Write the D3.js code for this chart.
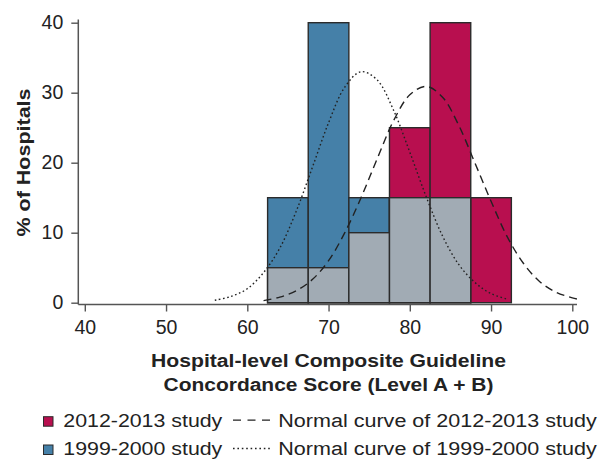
<!DOCTYPE html>
<html><head><meta charset="utf-8">
<script src="https://cdn.jsdelivr.net/npm/d3@7/dist/d3.min.js"></script>
<style>
html,body{margin:0;padding:0;background:#fff;}
svg{display:block;font-family:"Liberation Sans",Arial,Helvetica,sans-serif;}
</style></head>
<body>
<svg id="chart" width="599" height="461"></svg>
<script>
// ---- data ----
const binCenters = [65, 70, 75, 80, 85, 90];
const study1999 = [15, 40, 15, 15, 15, 0];
const study2012 = [5, 5, 10, 25, 40, 15];
const xTicks = [40, 50, 60, 70, 80, 90, 100];
const yTicks = [0, 10, 20, 30, 40];
// normal curves
const curve1999X = [56, 58, 60, 62, 64, 66, 68, 70, 72, 74, 76, 78, 80, 82, 84, 86, 88, 90, 92];
const curve1999Y = [0.35, 0.9, 2.0, 4.3, 7.8, 13.0, 19.3, 25.7, 30.8, 33.0, 31.8, 27.5, 21.5, 15.2, 9.6, 5.5, 2.9, 1.3, 0.5];
const curve2012X = [62, 64, 66, 68, 70, 72, 74, 76, 78, 80, 82, 84, 86, 88, 90, 92, 94, 96, 98, 100, 100.7];
const curve2012Y = [0.3, 0.8, 1.7, 3.3, 6.0, 10.0, 15.0, 20.6, 26.0, 29.7, 30.9, 29.4, 25.4, 20.0, 14.5, 9.4, 5.6, 3.0, 1.5, 0.7, 0.5];
const legendLabels = ["2012-2013 study", "1999-2000 study"];
const curveLabels = ["Normal curve of 2012-2013 study", "Normal curve of 1999-2000 study"];

const colBlue = "#4580a8", colRed = "#b80f4f", colGray = "#a1abb4", colEdge = "#2b2b2b";

const svg = d3.select("#chart");
const x = d3.scaleLinear().domain([40, 100]).range([84.8, 572.3]);
const y = d3.scaleLinear().domain([0, 40]).range([302.7, 22.7]);
const binW = 5;

const g = svg.append("g");
function bars(vals, fill) {
  g.append("g").selectAll("rect").data(binCenters.map((c, i) => ({c, v: vals[i]})).filter(d => d.v > 0))
    .join("rect")
    .attr("x", d => x(d.c - binW / 2)).attr("width", d => x(d.c + binW / 2) - x(d.c - binW / 2))
    .attr("y", d => y(d.v)).attr("height", d => y(0) - y(d.v))
    .attr("fill", fill).attr("stroke", colEdge).attr("stroke-width", 1.4);
}
bars(study1999, colBlue);
bars(study2012, colRed);
bars(binCenters.map((c, i) => Math.min(study1999[i], study2012[i])), colGray);

const line = d3.line().x(d => x(d[0])).y(d => y(d[1])).curve(d3.curveCatmullRom);
g.append("path").datum(curve1999X.map((v, i) => [v, curve1999Y[i]]))
  .attr("d", line).attr("fill", "none").attr("stroke", "#222").attr("stroke-width", 1.4)
  .attr("stroke-dasharray", "1.6,2.6");
g.append("path").datum(curve2012X.map((v, i) => [v, curve2012Y[i]]))
  .attr("d", line).attr("fill", "none").attr("stroke", "#222").attr("stroke-width", 1.4)
  .attr("stroke-dasharray", "8,5");

// axes
const axisColor = "#555";
const xAxisY = 304.5, yAxisX = 78.3;
const xa = svg.append("g").attr("transform", `translate(0,${xAxisY})`)
  .call(d3.axisBottom(x).tickValues(xTicks).tickSize(7).tickPadding(9));
xa.select(".domain").remove();
xa.append("line").attr("x1", yAxisX).attr("x2", 577).attr("stroke", axisColor).attr("stroke-width", 1.5);
const ya = svg.append("g").attr("transform", `translate(${yAxisX},0)`)
  .call(d3.axisLeft(y).tickValues(yTicks).tickSize(7).tickPadding(8));
ya.select(".domain").remove();
ya.append("line").attr("y1", 19.5).attr("y2", xAxisY).attr("stroke", axisColor).attr("stroke-width", 1.5);
[xa, ya].forEach(a => {
  a.selectAll(".tick line").attr("stroke", axisColor).attr("stroke-width", 1.4);
  a.selectAll(".tick text").attr("fill", "#222").style("font-size", "19.5px")
    .style("font-family", '"Liberation Sans",Arial,sans-serif');
});

// axis titles (reference type is set wide; stretch to the measured widths)
function wideText(sel, txt, len) {
  return sel.append("text").attr("fill", "#222").attr("textLength", len)
    .attr("lengthAdjust", "spacingAndGlyphs").text(txt);
}
wideText(svg, "Hospital-level Composite Guideline", 355).attr("x", 328.5).attr("y", 366.5)
  .attr("text-anchor", "middle").style("font-weight", "bold").style("font-size", "18px");
wideText(svg, "Concordance Score (Level A + B)", 330).attr("x", 328.5).attr("y", 391)
  .attr("text-anchor", "middle").style("font-weight", "bold").style("font-size", "18px");
wideText(svg, "% of Hospitals", 148).attr("transform", "translate(29.5,162.5) rotate(-90)")
  .attr("text-anchor", "middle").style("font-weight", "bold").style("font-size", "18px");

// legend
const rows = [426.7, 455];
const fills = [colRed, colBlue];
const dashes = ["8,6.5", "1.6,2.8"];
rows.forEach((by, i) => {
  svg.append("rect").attr("x", 43.5).attr("y", by - 10).attr("width", 9.5).attr("height", 9.5)
    .attr("fill", fills[i]).attr("stroke", colEdge).attr("stroke-width", 1);
  wideText(svg, legendLabels[i], 159).attr("x", 63.3).attr("y", by).style("font-size", "18px");
  svg.append("line").attr("x1", 233).attr("x2", 270).attr("y1", by - 6.5).attr("y2", by - 6.5)
    .attr("stroke", "#222").attr("stroke-width", 1.3).attr("stroke-dasharray", dashes[i]);
  wideText(svg, curveLabels[i], 318.5).attr("x", 278.3).attr("y", by).style("font-size", "18px");
});
</script>
</body></html>
